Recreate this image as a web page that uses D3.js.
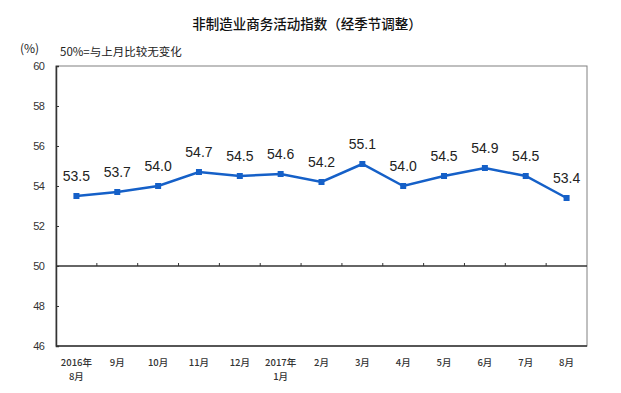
<!DOCTYPE html>
<html>
<head>
<meta charset="utf-8">
<script src="https://cdn.jsdelivr.net/npm/d3@7"></script>
<style>
  body { margin: 0; background: #fff; }
  text { font-family: "Liberation Sans", Arial, sans-serif; }
</style>
</head>
<body>
<div id="chart"></div>
<script>
const months = ["2016年|8月", "9月", "10月", "11月", "12月", "2017年|1月", "2月", "3月", "4月", "5月", "6月", "7月", "8月"];
const values = [53.5, 53.7, 54.0, 54.7, 54.5, 54.6, 54.2, 55.1, 54.0, 54.5, 54.9, 54.5, 53.4];
const yTicks = [46, 48, 50, 52, 54, 56, 58, 60];

const width = 621;
const height = 393;
const margin = { top: 66, right: 34, bottom: 47, left: 56 };

const svg = d3.select("#chart")
  .append("svg")
  .attr("width", width)
  .attr("height", height);

const x = d3.scaleBand()
  .domain(months)
  .range([margin.left, width - margin.right]);

const y = d3.scaleLinear()
  .domain([46, 60])
  .range([height - margin.bottom, margin.top]);

const cjk = "'Noto Sans CJK SC', sans-serif";

// title
svg.append("text")
  .attr("x", 307)
  .attr("y", 29)
  .attr("text-anchor", "middle")
  .attr("font-size", "13.5px")
  .attr("font-weight", 500)
  .style("font-family", cjk)
  .attr("fill", "#111")
  .text("非制造业商务活动指数（经季节调整）");

svg.append("text")
  .attr("x", 20)
  .attr("y", 53)
  .attr("font-size", "12px")
  .style("font-family", cjk)
  .attr("fill", "#222")
  .text("(%)");

svg.append("text")
  .attr("x", 60)
  .attr("y", 56)
  .attr("font-size", "11.5px")
  .style("font-family", cjk)
  .attr("fill", "#222")
  .text("50%=与上月比较无变化");

// frame (top/right gray)
svg.append("rect")
  .attr("x", margin.left)
  .attr("y", margin.top)
  .attr("width", width - margin.left - margin.right)
  .attr("height", height - margin.top - margin.bottom)
  .attr("fill", "none")
  .attr("stroke", "#808080")
  .attr("stroke-width", 1);

// y axis with inward ticks
const yAxis = svg.append("g")
  .attr("transform", `translate(${margin.left},0)`)
  .call(d3.axisRight(y).tickValues(yTicks).tickSize(3).tickFormat(""));
yAxis.select(".domain").attr("stroke", "#333").attr("stroke-width", 1.5);
yAxis.selectAll(".tick line").attr("stroke", "#333");

svg.append("g")
  .selectAll("text")
  .data(yTicks)
  .enter()
  .append("text")
  .attr("x", margin.left - 12)
  .attr("y", d => y(d) + 4)
  .attr("text-anchor", "end")
  .attr("font-size", "11px")
  .attr("fill", "#333")
  .style("letter-spacing", "-0.8px")
  .text(d => d);

// bottom line
svg.append("line")
  .attr("x1", margin.left)
  .attr("x2", width - margin.right)
  .attr("y1", y(46))
  .attr("y2", y(46))
  .attr("stroke", "#333")
  .attr("stroke-width", 1.5);

// 50 line with category boundary ticks
svg.append("line")
  .attr("x1", margin.left)
  .attr("x2", width - margin.right)
  .attr("y1", y(50))
  .attr("y2", y(50))
  .attr("stroke", "#333")
  .attr("stroke-width", 1.5);

svg.append("g")
  .selectAll("line")
  .data(months.slice(1))
  .enter()
  .append("line")
  .attr("x1", d => x(d))
  .attr("x2", d => x(d))
  .attr("y1", y(50))
  .attr("y2", y(50) - 3)
  .attr("stroke", "#333");

// x labels
const xl = svg.append("g")
  .selectAll("text")
  .data(months)
  .enter()
  .append("text")
  .attr("x", d => x(d) + x.bandwidth() / 2)
  .attr("y", height - margin.bottom + 20)
  .attr("text-anchor", "middle")
  .attr("font-size", "9.5px")
  .attr("font-weight", 500)
  .style("font-family", cjk)
  .attr("fill", "#333");

xl.each(function (d) {
  const parts = d.split("|");
  const t = d3.select(this);
  parts.forEach((p, i) => {
    t.append("tspan")
      .attr("x", x(d) + x.bandwidth() / 2)
      .attr("dy", i === 0 ? 0 : 14)
      .text(p);
  });
});

// line
const line = d3.line()
  .x((d, i) => x(months[i]) + x.bandwidth() / 2)
  .y(d => y(d));

svg.append("path")
  .datum(values)
  .attr("d", line)
  .attr("fill", "none")
  .attr("stroke", "#1560c8")
  .attr("stroke-width", 2.5);

svg.append("g")
  .selectAll("rect")
  .data(values)
  .enter()
  .append("rect")
  .attr("x", (d, i) => x(months[i]) + x.bandwidth() / 2 - 3)
  .attr("y", d => y(d) - 3)
  .attr("width", 6)
  .attr("height", 6)
  .attr("fill", "#1560c8");

// value labels
svg.append("g")
  .selectAll("text")
  .data(values)
  .enter()
  .append("text")
  .attr("x", (d, i) => x(months[i]) + x.bandwidth() / 2)
  .attr("y", d => y(d) - 15)
  .attr("text-anchor", "middle")
  .attr("font-size", "14px")
  .attr("fill", "#222")
  .text(d => d.toFixed(1));
</script>
</body>
</html>
